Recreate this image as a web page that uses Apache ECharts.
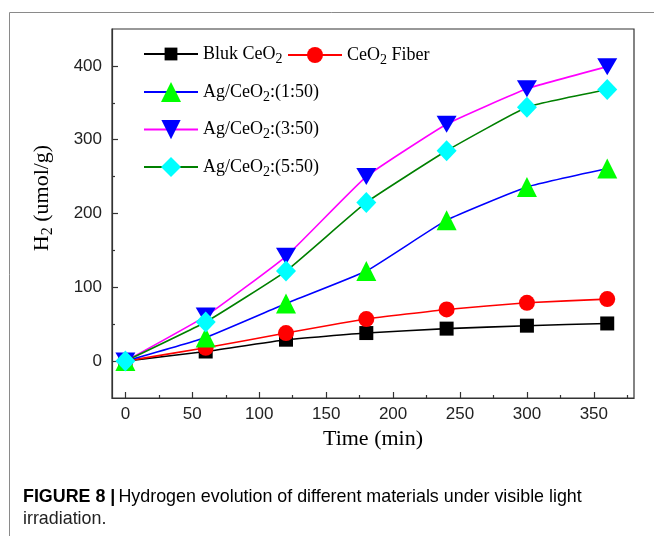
<!DOCTYPE html>
<html>
<head>
<meta charset="utf-8">
<script src="https://cdn.jsdelivr.net/npm/echarts@6/dist/echarts.min.js"></script>
<style>
html,body{margin:0;padding:0;background:#fff;}
#chart{width:654px;height:536px;}
</style>
</head>
<body>
<div id="chart"></div>
<script>
// ---- data ----
const times = [0, 60, 120, 180, 240, 300, 360];
const bulkCeO2 = [0, 13, 29, 38, 44, 48, 51];
const ceo2Fiber = [0, 18, 38, 57, 70, 79, 84];
const ag1_50 = [0, 32, 78, 122, 191, 236, 261];
const ag3_50 = [0, 61, 142, 250, 321, 369, 399];
const ag5_50 = [0, 53, 122, 215, 285, 344, 368];
const seriesNames = ['Bluk CeO2', 'CeO2 Fiber', 'Ag/CeO2:(1:50)', 'Ag/CeO2:(3:50)', 'Ag/CeO2:(5:50)'];
const xMajorTicks = [0, 50, 100, 150, 200, 250, 300, 350];
const xMinorTicks = [25, 75, 125, 175, 225, 275, 325, 375];
const yMajorTicks = [0, 100, 200, 300, 400];
const yMinorTicks = [50, 150, 250, 350];

const pair = (ys) => times.map((t, i) => [t, ys[i]]);

const serif = "'Liberation Serif', 'DejaVu Serif', serif";
const sans = "'Liberation Sans', Arial, sans-serif";

const legendRich = {
  a: { fontFamily: serif, fontSize: 18, color: '#000' },
  s: { fontFamily: serif, fontSize: 14, color: '#000', padding: [10, 0, 0, 0] }
};
function legendLabel(name) {
  const parts = name.split('CeO2');
  return '{a|' + parts[0] + 'CeO}{s|2}{a|' + parts[1] + '}';
}
function makeLegend(name, left, cy, h) {
  return {
    data: [name],
    left: left,
    top: cy - h / 2,
    padding: 0,
    itemWidth: 54,
    itemHeight: h,
    itemGap: 0,
    textStyle: { rich: legendRich, padding: [0, 0, 0, 0] },
    formatter: legendLabel,
    selectedMode: false
  };
}

const chart = echarts.init(document.getElementById('chart'), null, { renderer: 'canvas' });

const lineSeries = (name, data, lineColor, symColor, symbol, size) => ({
  name: name,
  type: 'line',
  xAxisIndex: 0,
  yAxisIndex: 0,
  data: pair(data),
  smooth: 0.12,
  symbol: symbol,
  symbolSize: size,
  lineStyle: { color: lineColor, width: 1.6 },
  itemStyle: { color: symColor },
  emphasis: { disabled: true },
  animation: false
});

const captionFont = "'Liberation Sans', Arial, sans-serif";

const option = {
  backgroundColor: '#fff',
  animation: false,
  grid: {
    left: 112, top: 29, right: 20, bottom: 138,
    show: true, borderColor: '#333', borderWidth: 1.2, backgroundColor: 'transparent'
  },
  legend: [
    makeLegend(seriesNames[0], 143, 53, 16),
    makeLegend(seriesNames[1], 287, 56, 20),
    makeLegend(seriesNames[2], 143, 94.5, 25),
    makeLegend(seriesNames[3], 143, 132, 24),
    makeLegend(seriesNames[4], 143, 169.5, 25)
  ],
  xAxis: [
    {
      type: 'value', min: -10, max: 380, position: 'bottom',
      axisLine: { show: true, onZero: false, lineStyle: { color: '#333', width: 1.2 } },
      axisTick: { show: true, inside: true, length: 6, customValues: xMajorTicks, lineStyle: { color: '#333', width: 1.2 } },
      axisLabel: { show: true, customValues: xMajorTicks, margin: 8, fontFamily: sans, fontSize: 17, color: '#222' },
      splitLine: { show: false },
      name: 'Time (min)', nameLocation: 'middle', nameGap: 30,
      nameTextStyle: { fontFamily: serif, fontSize: 22, color: '#000' }
    },
    {
      type: 'value', min: -10, max: 380, position: 'bottom',
      axisLine: { show: false, onZero: false },
      axisTick: { show: true, inside: true, length: 3, customValues: xMinorTicks, lineStyle: { color: '#333', width: 1.2 } },
      axisLabel: { show: false },
      splitLine: { show: false }
    }
  ],
  yAxis: [
    {
      type: 'value', min: -50, max: 450, position: 'left',
      axisLine: { show: true, onZero: false, lineStyle: { color: '#333', width: 1.2 } },
      axisTick: { show: true, inside: true, length: 6, customValues: yMajorTicks, lineStyle: { color: '#333', width: 1.2 } },
      axisLabel: { show: true, customValues: yMajorTicks, margin: 10, fontFamily: sans, fontSize: 17, color: '#222' },
      splitLine: { show: false }
    },
    {
      type: 'value', min: -50, max: 450, position: 'left',
      axisLine: { show: false, onZero: false },
      axisTick: { show: true, inside: true, length: 3, customValues: yMinorTicks, lineStyle: { color: '#333', width: 1.2 } },
      axisLabel: { show: false },
      splitLine: { show: false }
    }
  ],
  graphic: [
    {
      type: 'polyline', silent: true,
      shape: { points: [[9.5, 536], [9.5, 12.5], [654, 12.5]] },
      style: { stroke: '#8a8a8a', lineWidth: 1, fill: null }
    },
    {
      type: 'text', silent: true,
      x: 42, y: 198, rotation: Math.PI / 2,
      style: {
        text: '{a|H}{s|2}{a| (umol/g)}',
        align: 'center', verticalAlign: 'middle',
        rich: {
          a: { fontFamily: serif, fontSize: 22, color: '#000' },
          s: { fontFamily: serif, fontSize: 16, color: '#000', padding: [12, 0, 0, 0] }
        }
      }
    },
    {
      type: 'text', silent: true,
      x: 23, y: 497, scaleX: 0.94,
      style: {
        text: '{b|FIGURE 8 |} {r|Hydrogen evolution of different materials under visible light}',
        verticalAlign: 'middle',
        rich: {
          b: { fontFamily: captionFont, fontWeight: 'bold', fontSize: 19, color: '#111' },
          r: { fontFamily: captionFont, fontSize: 19, color: '#222' }
        }
      }
    },
    {
      type: 'text', silent: true,
      x: 23, y: 519, scaleX: 0.94,
      style: {
        text: 'irradiation.',
        verticalAlign: 'middle',
        fontFamily: captionFont,
        fontSize: 19, fill: '#222'
      }
    }
  ],
  series: [
    lineSeries(seriesNames[0], bulkCeO2, '#000000', '#000000', 'rect', 14),
    lineSeries(seriesNames[1], ceo2Fiber, '#ff0000', '#ff0000', 'circle', 16),
    lineSeries(seriesNames[2], ag1_50, '#0000ff', '#00ff00', 'triangle', 20),
    lineSeries(seriesNames[3], ag3_50, '#ff00ff', '#0000ff', 'path://M0,0 L20,0 L10,17 Z', [20, 17]),
    lineSeries(seriesNames[4], ag5_50, '#008000', '#00ffff', 'diamond', [20, 21])
  ]
};
chart.setOption(option);
</script>
</body>
</html>
